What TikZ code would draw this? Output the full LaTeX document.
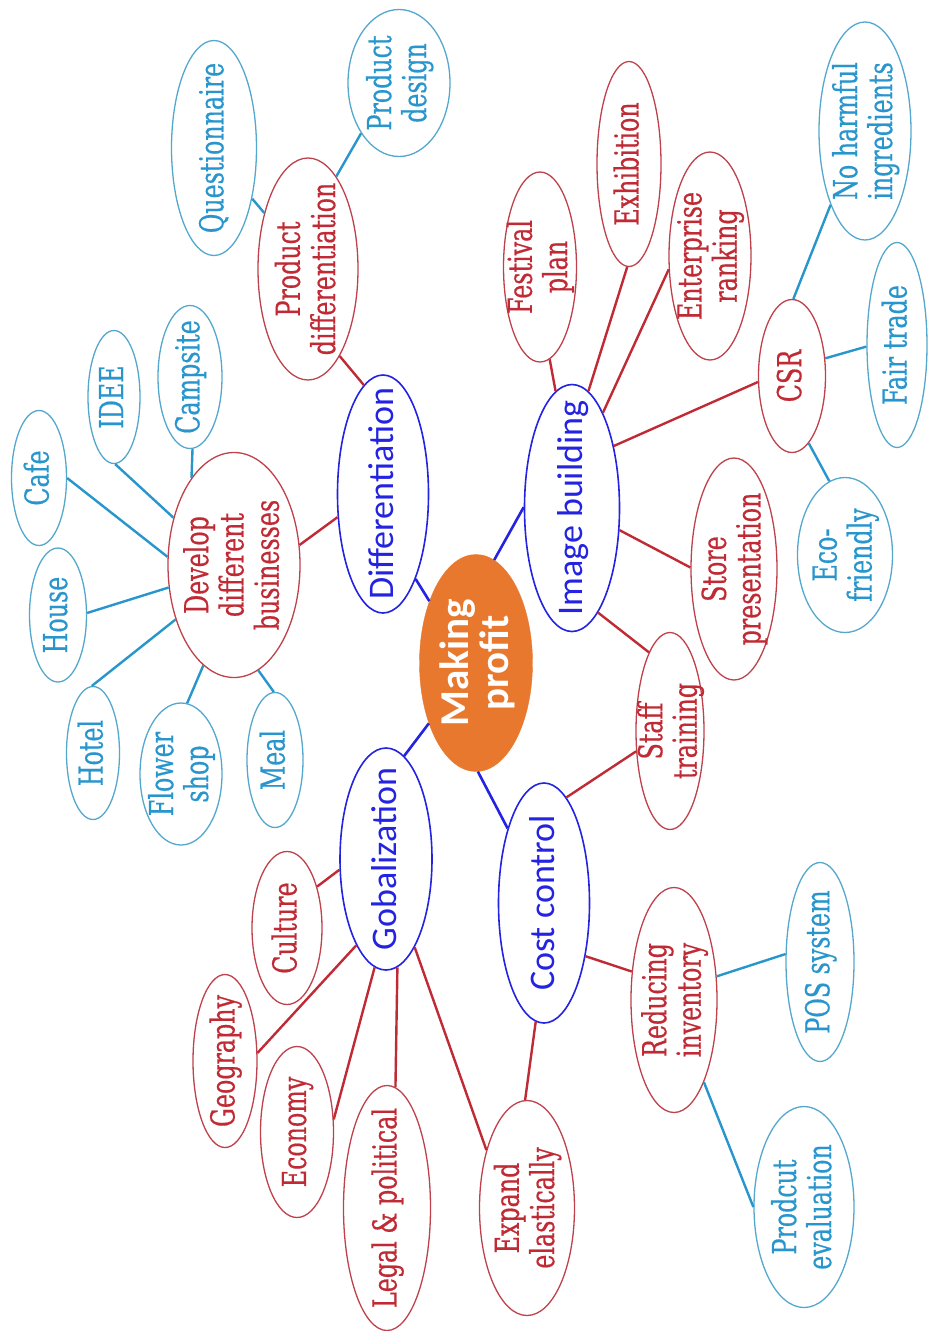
\documentclass[tikz,border=0pt]{standalone}
\usepackage{fontspec}
\usetikzlibrary{shapes.geometric}
\newfontfamily\lvA{Carlito}
\newfontfamily\lvB{DejaVu Serif}[FakeStretch=0.72,FakeBold=0.5]
\definecolor{cBlue}{RGB}{35,35,225}
\definecolor{cRed}{RGB}{192,42,52}
\definecolor{cRedB}{RGB}{190,65,75}
\definecolor{cCyan}{RGB}{40,150,205}
\definecolor{cCyanB}{RGB}{85,168,205}
\definecolor{cOrange}{RGB}{232,120,45}
\newcommand{\zlbl}[1]{\raisebox{-0.25em}[0pt][0pt]{\makebox[0pt]{\begin{tabular}{@{}c@{}}#1\end{tabular}}}}
\tikzset{
  base/.style={ellipse, rotate=90, inner sep=0pt},
  dims/.style 2 args={minimum width=#2pt, minimum height=#1pt},
  core/.style={base, fill=cOrange, draw=cOrange, text=white, font=\lvA\bfseries\fontsize{41}{40}\selectfont},
  lA/.style={base, draw=cBlue, line width=1.6pt, text=cBlue, font=\lvA\fontsize{36}{38}\selectfont},
  lB/.style={base, draw=cRedB, line width=1.3pt, text=cRed, font=\lvB\fontsize{33}{34}\selectfont},
  lC/.style={base, draw=cCyanB, line width=1.3pt, text=cCyan, font=\lvB\fontsize{33}{33}\selectfont},
  eA/.style={draw=cBlue, line width=2.6pt},
  eB/.style={draw=cRed, line width=2.4pt},
  eC/.style={draw=cCyan, line width=2.4pt}
}
\begin{document}
\begin{tikzpicture}[x=1pt,y=-1pt]
\fill[white] (0,0) rectangle (928,1331);
\useasboundingbox (0,0) rectangle (928,1331);
% centre
\node[core, dims={113}{217}] (mp) at (476,663) {\zlbl{Making\\profit}};
% level 1
\node[lA, dims={91}{238}] (dif) at (383,494) {\zlbl{Differentiation}};
\node[lA, dims={95}{247}] (img) at (572,508) {\zlbl{Image building}};
\node[lA, dims={92}{222}] (gob) at (386,859) {\zlbl{Gobalization}};
\node[lA, dims={91}{240}] (cost) at (544,903) {\zlbl{Cost control}};
% level 2
\node[lB, dims={132}{225}] (dev) at (234,565) {\zlbl{Develop\\different\\businesses}};
\node[lB, dims={100}{222}] (pd) at (308,269) {\zlbl{Product\\differentiation}};
\node[lB, dims={73}{190}] (fest) at (540,267) {\zlbl{Festival\\plan}};
\node[lB, dims={64}{205}] (exh) at (629,164) {\zlbl{Exhibition}};
\node[lB, dims={82}{208}] (ent) at (710,256) {\zlbl{Enterprise\\ranking}};
\node[lB, dims={67}{153}] (csr) at (792,376) {\zlbl{CSR}};
\node[lB, dims={86}{222}] (store) at (734,569) {\zlbl{Store\\presentation}};
\node[lB, dims={68}{197}] (staff) at (670,731) {\zlbl{Staff\\training}};
\node[lB, dims={70}{153}] (cul) at (287,928) {\zlbl{Culture}};
\node[lB, dims={64}{173}] (geo) at (225,1061) {\zlbl{Geography}};
\node[lB, dims={73}{171}] (econ) at (297,1132) {\zlbl{Economy}};
\node[lB, dims={87}{245}] (leg) at (387,1208) {\zlbl{Legal \& political}};
\node[lB, dims={95}{215}] (exp) at (527,1208) {\zlbl{Expand\\elastically}};
\node[lB, dims={86}{225}] (red) at (674,1000) {\zlbl{Reducing\\inventory}};
% level 3
\node[lC, dims={85}{215}] (que) at (214,148) {\zlbl{Questionnaire}};
\node[lC, dims={102}{147}] (pdes) at (399,83) {\zlbl{Product\\design}};
\node[lC, dims={52}{133}] (idee) at (114,397) {\zlbl{IDEE}};
\node[lC, dims={64}{143}] (camp) at (190,377) {\zlbl{Campsite}};
\node[lC, dims={55}{135}] (cafe) at (39,478) {\zlbl{Cafe}};
\node[lC, dims={57}{134}] (house) at (58,615) {\zlbl{House}};
\node[lC, dims={53}{133}] (hotel) at (93,753) {\zlbl{Hotel}};
\node[lC, dims={82}{142}] (flow) at (181,774) {\zlbl{Flower\\shop}};
\node[lC, dims={56}{135}] (meal) at (275,760) {\zlbl{Meal}};
\node[lC, dims={92}{218}] (noh) at (865,131) {\zlbl{No harmful\\ingredients}};
\node[lC, dims={60}{205}] (fair) at (897,345) {\zlbl{Fair trade}};
\node[lC, dims={95}{155}] (ecof) at (845,555) {\zlbl{Eco-\\friendly}};
\node[lC, dims={68}{199}] (pos) at (820,962) {\zlbl{POS system}};
\node[lC, dims={100}{201}] (pev) at (804,1207) {\zlbl{Prodcut\\evaluation}};
% connectors: centre
\draw[eA] (mp.37.9) -- (dif.-159);
\draw[eA] (mp.-10.5) -- (img.89);
\draw[eA] (mp.142.5) -- (gob.-10.3);
\draw[eA] (mp.-179) -- (cost.26);
% differentiation
\draw[eB] (dif.117.6) -- (dev.-73);
\draw[eB] (dif.10.7) -- (pd.-160);
\draw[eC] (pd.38.8) -- (que.-143.8);
\draw[eC] (pd.-17.5) -- (pdes.143.5);
\draw[eC] (dev.83) -- (cafe.-90);
\draw[eC] (dev.52.4) -- (idee.-179);
\draw[eC] (dev.26.6) -- (camp.-178.4);
\draw[eC] (dev.109) -- (house.-86);
\draw[eC] (dev.133) -- (hotel.1);
\draw[eC] (dev.163.8) -- (flow.-5);
\draw[eC] (dev.-167.5) -- (meal.1.7);
% image building
\draw[eB] (img.8.5) -- (fest.-174.6);
\draw[eB] (img.-8) -- (exh.179);
\draw[eB] (img.-18.1) -- (ent.108.9);
\draw[eB] (img.-34.1) -- (csr.100);
\draw[eB] (img.-115) -- (store.88.7);
\draw[eB] (img.-166.6) -- (staff.15.4);
\draw[eC] (csr.-1.5) -- (noh.155.4);
\draw[eC] (csr.-62.2) -- (fair.93.6);
\draw[eC] (csr.-166.7) -- (ecof.12.4);
% globalization
\draw[eB] (gob.103.4) -- (cul.-36.9);
\draw[eB] (gob.161.9) -- (geo.-76);
\draw[eB] (gob.174.4) -- (econ.-71.6);
\draw[eB] (gob.-174.5) -- (leg.-4.6);
\draw[eB] (gob.-162.3) -- (exp.35.2);
% cost control
\draw[eB] (cost.-12) -- (staff.121.4);
\draw[eB] (cost.176.2) -- (exp.1.6);
\draw[eB] (cost.-142.1) -- (red.56.3);
\draw[eC] (red.-61) -- (pos.77.3);
\draw[eC] (red.-160.6) -- (pev.90);
\end{tikzpicture}
\end{document}
